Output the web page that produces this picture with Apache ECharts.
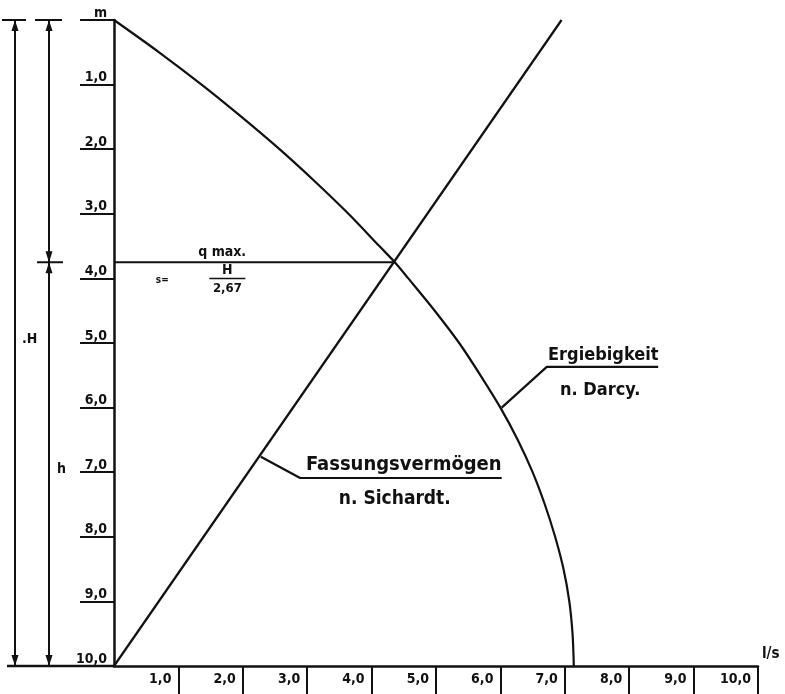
<!DOCTYPE html>
<html>
<head>
<meta charset="utf-8">
<script src="https://cdn.jsdelivr.net/npm/echarts@6/dist/echarts.min.js"></script>
<style>
html,body{margin:0;padding:0;background:#fff;}
#chart{width:785px;height:694px;}
</style>
</head>
<body>
<div id="chart"></div>
<script>
// ---- data ----
const xTickValues = [1, 2, 3, 4, 5, 6, 7, 8, 9, 10];
const xTickLabels = ['1,0', '2,0', '3,0', '4,0', '5,0', '6,0', '7,0', '8,0', '9,0', '10,0'];
const yTickLabels = ['m', '1,0', '2,0', '3,0', '4,0', '5,0', '6,0', '7,0', '8,0', '9,0', '10,0'];

// Ergiebigkeit n. Darcy : drawdown s (m) and yield q (l/s)
const darcyS = [0, 0.5, 1, 1.5, 2, 2.5, 3, 3.5, 3.75, 4, 4.5, 5, 5.5, 6, 6.5, 7, 7.5, 8, 8.5, 9, 9.5, 10];
const darcyQ = [0, 0.70, 1.36, 1.98, 2.57, 3.12, 3.64, 4.12, 4.36, 4.57, 4.98, 5.36, 5.69, 6.00, 6.27, 6.50, 6.69, 6.85, 6.98, 7.07, 7.12, 7.14];

// Fassungsvermögen n. Sichardt
const sichardtS = [10, 0];
const sichardtQ = [0, 6.95];

// q max at s = H / 2,67
const qmaxS = [3.75, 3.75];
const qmaxQ = [0, 4.37];

// leader lines of the labels
const darcyLeaderQ = [6.02, 6.72, 8.45];
const darcyLeaderS = [6.0, 5.37, 5.37];
const sichLeaderQ = [2.28, 2.89, 6.02];
const sichLeaderS = [6.76, 7.09, 7.09];

const zip = (a, b) => a.map((v, i) => [v, b[i]]);

const INK = '#111';
const FONT = '"DejaVu Sans Condensed","Liberation Sans Narrow","DejaVu Sans",sans-serif';

const chart = echarts.init(document.getElementById('chart'), null, {renderer: 'canvas'});

const lineSeries = (name, data, w) => ({
  name, type: 'line', data, showSymbol: false, symbol: 'none',
  lineStyle: {color: INK, width: w}, silent: true, z: 3
});

chart.setOption({
  animation: false,
  backgroundColor: '#fff',
  grid: {left: 114, top: 20, right: 27, bottom: 28, containLabel: false, outerBoundsMode: 'none'},
  xAxis: {
    type: 'value', position: 'bottom', min: 0, max: 10, interval: 1,
    name: 'l/s', nameLocation: 'end', nameGap: 4,
    nameTextStyle: {color: INK, fontFamily: FONT, fontWeight: 'bold', fontSize: 15, align: 'left', verticalAlign: 'bottom', padding: [0, 0, 4, 0]},
    splitLine: {show: false},
    axisLine: {show: true, onZero: false, lineStyle: {color: INK, width: 2.5}},
    axisTick: {show: true, inside: false, length: 28, customValues: xTickValues, lineStyle: {color: INK, width: 2}},
    axisLabel: {
      show: true, customValues: xTickValues, margin: 6, align: 'right', padding: [0, 7, 0, 0],
      color: INK, fontFamily: FONT, fontWeight: 'bold', fontSize: 14,
      formatter: v => xTickLabels[xTickValues.indexOf(Math.round(v))] || ''
    }
  },
  yAxis: {
    type: 'value', min: 0, max: 10, interval: 1, inverse: true,
    splitLine: {show: false},
    axisLine: {show: true, onZero: false, lineStyle: {color: INK, width: 2.5}},
    axisTick: {show: true, inside: false, length: 34, lineStyle: {color: INK, width: 2}},
    axisLabel: {
      show: true, margin: 7, verticalAlign: 'bottom',
      color: INK, fontFamily: FONT, fontWeight: 'bold', fontSize: 14,
      formatter: v => yTickLabels[Math.round(v)]
    }
  },
  series: [
    Object.assign(lineSeries('Ergiebigkeit n. Darcy', zip(darcyQ, darcyS), 2.2), {smooth: 0.3}),
    lineSeries('Fassungsvermögen n. Sichardt', zip(sichardtQ, sichardtS), 2.2),
    lineSeries('q max', zip(qmaxQ, qmaxS), 2.2),
    lineSeries('leader Darcy', zip(darcyLeaderQ, darcyLeaderS), 2.2),
    lineSeries('leader Sichardt', zip(sichLeaderQ, sichLeaderS), 2.2)
  ]
});

// ---- annotations positioned through the chart's own scales ----
const P = (q, s) => chart.convertToPixel({gridIndex: 0}, [q, s]);
const x0 = P(0, 0)[0];
const yTop = P(0, 0)[1];
const yBot = P(0, 10)[1];
const yQ = P(0, qmaxS[0])[1];

const ln = (x1, y1, x2, y2, w) => ({type: 'line', shape: {x1, y1, x2, y2}, style: {stroke: INK, lineWidth: w || 2}, silent: true});
const arrowUp = (x, y) => ({type: 'polygon', shape: {points: [[x, y], [x - 3.5, y + 11], [x + 3.5, y + 11]]}, style: {fill: INK}, silent: true});
const arrowDown = (x, y) => ({type: 'polygon', shape: {points: [[x, y], [x - 3.5, y - 11], [x + 3.5, y - 11]]}, style: {fill: INK}, silent: true});
const txt = (text, x, y, size, align, vAlign, weight) => ({
  type: 'text', silent: true,
  style: {text, x, y, fill: INK, fontSize: size, fontFamily: FONT, fontWeight: weight || 'bold',
    align: align || 'left', verticalAlign: vAlign || 'middle', textAlign: align || 'left', textVerticalAlign: vAlign || 'middle'}
});

const xH = x0 - 99;   // outer dimension line (H)
const xh = x0 - 65;   // inner dimension line (s / h)

const g = [];
// extension of the bottom line to the left
g.push(ln(7, yBot, x0, yBot, 2.5));
// H dimension
g.push(ln(xH - 13, yTop, xH + 11, yTop, 2));
g.push(ln(xH, yTop, xH, yBot, 2));
g.push(arrowUp(xH, yTop), arrowDown(xH, yBot));
// s and h dimension
g.push(ln(xh - 14, yTop, xh + 13, yTop, 2));
g.push(ln(xh, yTop, xh, yBot, 2));
g.push(arrowUp(xh, yTop), arrowDown(xh, yQ), arrowUp(xh, yQ), arrowDown(xh, yBot));
g.push(ln(xh - 12, yQ, xh + 14, yQ, 2));
g.push(txt('.H', xH + 7, P(0, 4.95)[1], 14, 'left', 'middle'));
g.push(txt('h', xh + 8, P(0, 6.95)[1], 14, 'left', 'middle'));

// q max and s = H / 2,67
const pq = P(1.68, 3.6);
g.push(txt('q max.', pq[0], pq[1], 14, 'center', 'middle'));
const ps = P(0.75, 4.0);
g.push(txt('s=', ps[0], ps[1] + 2, 10, 'center', 'middle'));
const pf = P(1.76, 4.0);
g.push(txt('H', pf[0], pf[1] - 8, 14, 'center', 'middle'));
g.push(ln(pf[0] - 18, pf[1], pf[0] + 18, pf[1], 1.5));
g.push(txt('2,67', pf[0], pf[1] + 10, 13, 'center', 'middle'));

// curve labels
const pe = P(6.74, 5.33);
g.push(txt('Ergiebigkeit', pe[0], pe[1], 18, 'left', 'bottom'));
const pd = P(7.55, 5.73);
g.push(txt('n. Darcy.', pd[0], pd[1], 18, 'center', 'middle'));
const pfv = P(2.98, 7.04);
g.push(txt('Fassungsvermögen', pfv[0], pfv[1], 20, 'left', 'bottom'));
const pns = P(4.36, 7.42);
g.push(txt('n. Sichardt.', pns[0], pns[1], 19, 'center', 'middle'));

chart.setOption({graphic: {elements: g}});
</script>
</body>
</html>
